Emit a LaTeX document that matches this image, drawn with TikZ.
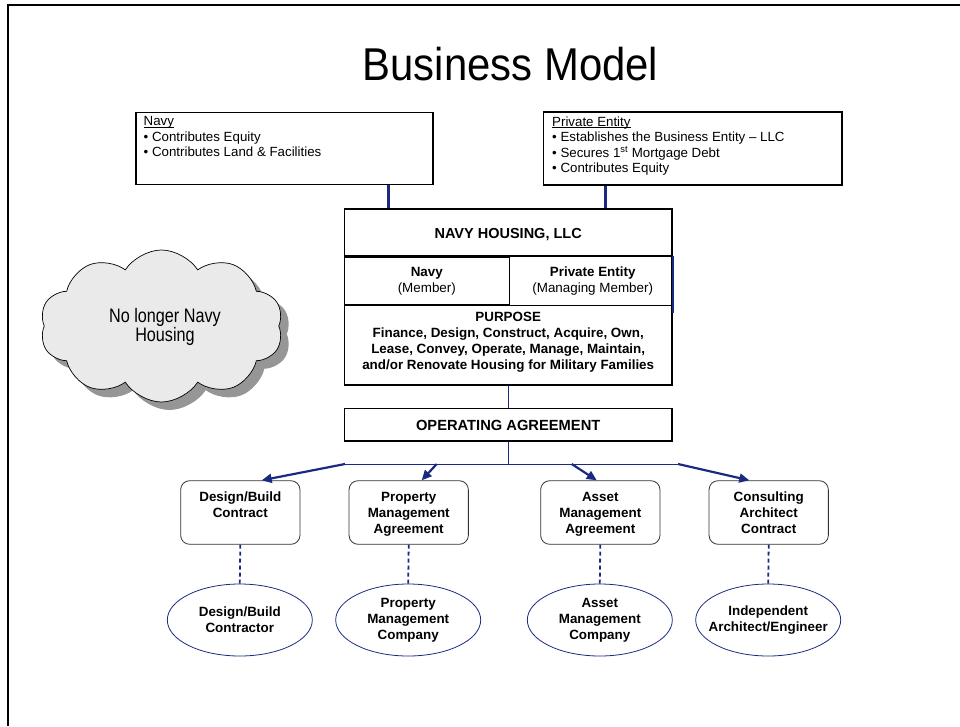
\documentclass[tikz,border=0pt]{standalone}
\usepackage{fontspec}
\setmainfont{Liberation Sans}
\newfontfamily\titlefont[FakeStretch=0.91]{Liberation Sans}
\newfontfamily\cloudfont[FakeStretch=0.83]{Liberation Sans}
\usetikzlibrary{shapes.symbols,shapes.geometric,arrows.meta,shadows}
\definecolor{navyline}{RGB}{27,42,128}
\definecolor{cloudfill}{RGB}{234,234,234}
\definecolor{cloudshadow}{RGB}{150,150,150}
\newcommand\myul[1]{\setbox0\hbox{#1}\rlap{\rule[-1.6pt]{\wd0}{0.7pt}}\box0}
\begin{document}
\begin{tikzpicture}[x=1pt,y=-1pt,
  bigbox/.style={draw=black,line width=1.6pt,rectangle,inner sep=0pt},
  txt/.style={font=\fontsize{13.3}{15.5}\selectfont,inner sep=0pt},
  btxt/.style={font=\fontsize{13.4}{16}\selectfont\bfseries,inner sep=0pt,align=center},
  ntxt/.style={font=\fontsize{13.4}{16}\selectfont,inner sep=0pt,align=center},
  rbox/.style={draw=black!80,line width=0.8pt,rounded corners=9pt,rectangle,minimum width=119.3pt,minimum height=63.6pt,inner sep=0pt},
  ell/.style={draw=navyline,line width=0.8pt,ellipse,minimum width=145pt,minimum height=72pt,inner sep=0pt},
  thickblue/.style={draw=navyline,line width=3pt},
  thinblue/.style={draw=navyline,line width=1pt},
  arrowblue/.style={draw=navyline,line width=2.2pt,-{Triangle[length=10pt,width=9pt]}},
  dashblue/.style={draw=navyline,line width=1.8pt,dash pattern=on 4pt off 3pt},
]
\useasboundingbox (0,0) rectangle (960,726);
% frame
\draw[line width=2pt] (960,5.3) -- (7.5,5.3) -- (7.5,726);
% title
\node[font=\titlefont\fontsize{46}{50}\selectfont,anchor=base,inner sep=0pt] (title) at (510.5,80) {Business Model};

% top boxes
\node[bigbox,minimum width=297pt,minimum height=72pt] (navybox) at (284.2,148.3) {};
\node[txt,anchor=north west,align=left] (navytxt) at (143.5,116.5) {\myul{Navy}\\• Contributes Equity\\• Contributes Land \& Facilities};
\node[bigbox,minimum width=298.4pt,minimum height=72.7pt] (privbox) at (692.5,148.6) {};
\node[txt,anchor=north west,align=left] (privtxt) at (552,116.5) {\myul{Private Entity}\\• Establishes the Business Entity – LLC\\• Secures 1\textsuperscript{st} Mortgage Debt\\• Contributes Equity};

% LLC block
\node[bigbox,minimum width=327.7pt,minimum height=176pt] (llc) at (508.2,297) {};
\node[btxt,font=\fontsize{14.5}{16}\selectfont\bfseries] (llctxt) at (508.2,235) {NAVY HOUSING, LLC};
\node[bigbox,minimum width=165pt,minimum height=47.5pt] (navycell) at (426.8,280.75) {};
\draw[line width=1.6pt] (navycell.north west) -- (llc.east |- navycell.north);
\draw[line width=1.6pt] (navycell.south west) -- (llc.east |- navycell.south);
\draw[draw=navyline,line width=1.5pt] (llc.east |- navycell.north) -- ([yshift=-8pt]llc.east |- navycell.south);
\node[ntxt] (navycelltxt) at (426.8,281.5) {\textbf{Navy}\\(Member)};
\node[ntxt] (privcelltxt) at (592.7,281.5) {\textbf{Private Entity}\\(Managing Member)};
\node[btxt] (purpose) at (508.2,342) {PURPOSE\\Finance, Design, Construct, Acquire, Own,\\Lease, Convey, Operate, Manage, Maintain,\\and/or Renovate Housing for Military Families};

% connectors from top boxes
\coordinate (cx1) at (388.7,0);
\coordinate (cx2) at (605,0);
\draw[thickblue] (navybox.south -| cx1) -- (llc.north -| cx1);
\draw[thickblue] (privbox.south -| cx2) -- (llc.north -| cx2);

% operating agreement
\node[bigbox,minimum width=327.7pt,minimum height=32.4pt] (op) at (508.2,424.5) {};
\node[font=\fontsize{14.7}{16}\selectfont\bfseries,inner sep=0pt] (optxt) at (508.2,425.5) {OPERATING AGREEMENT};
\draw[thinblue] (llc.south) -- (op.north);

% cloud
\node[cloud,cloud puffs=10,cloud puff arc=115,cloud ignores aspect,minimum width=243pt,minimum height=152pt,draw=black,line width=0.7pt,fill=cloudfill,
  drop shadow={shadow xshift=8pt,shadow yshift=-8pt,fill=cloudshadow,opacity=1}] (cloud) at (161.5,326) {};
\node[font=\cloudfont\fontsize{19.5}{17.7}\selectfont,align=center,inner sep=0pt] (cloudtxt) at (165,327) {No longer Navy\\Housing};

% contract boxes
\node[rbox] (b1) at (240.3,512.5) {};
\node[rbox] (b2) at (408.7,512.5) {};
\node[rbox] (b3) at (600.3,512.5) {};
\node[rbox] (b4) at (768.7,512.5) {};
\node[btxt,anchor=north] (t1) at ([yshift=-11.5pt]b1.north) {Design/Build\\Contract};
\node[btxt,anchor=north] (t2) at ([yshift=-11.5pt]b2.north) {Property\\Management\\Agreement};
\node[btxt,anchor=north] (t3) at ([yshift=-11.5pt]b3.north) {Asset\\Management\\Agreement};
\node[btxt,anchor=north] (t4) at ([yshift=-11.5pt]b4.north) {Consulting\\Architect\\Contract};

% distribution
\coordinate (a1) at (345,464);
\coordinate (a2) at (436.7,464);
\coordinate (a3) at (571.7,464);
\coordinate (a4) at (678,464);
\draw[thinblue] (op.south) -- (op.south |- a1);
\draw[thinblue] (a1) -- (a4);
\draw[arrowblue] (a1) -- ([xshift=21.4pt]b1.north);
\draw[arrowblue] (a2) -- ([xshift=13pt]b2.north);
\draw[arrowblue] (a3) -- ([xshift=-3.6pt]b3.north);
\draw[arrowblue] (a4) -- ([xshift=-19.4pt]b4.north);

% ellipses
\node[ell] (e1) at (239.8,620) {};
\node[ell] (e2) at (408.2,620) {};
\node[ell] (e3) at (599.8,620) {};
\node[ell] (e4) at (768.2,620) {};
\node[btxt] (et1) at (e1) {Design/Build\\Contractor};
\node[btxt] (et2) at (e2) {Property\\Management\\Company};
\node[btxt] (et3) at (e3) {Asset\\Management\\Company};
\node[btxt] (et4) at (e4) {Independent\\Architect/Engineer};
\draw[dashblue] (b1.south) -- (e1.north);
\draw[dashblue] (b2.south) -- (e2.north);
\draw[dashblue] (b3.south) -- (e3.north);
\draw[dashblue] (b4.south) -- (e4.north);
\end{tikzpicture}
\end{document}
